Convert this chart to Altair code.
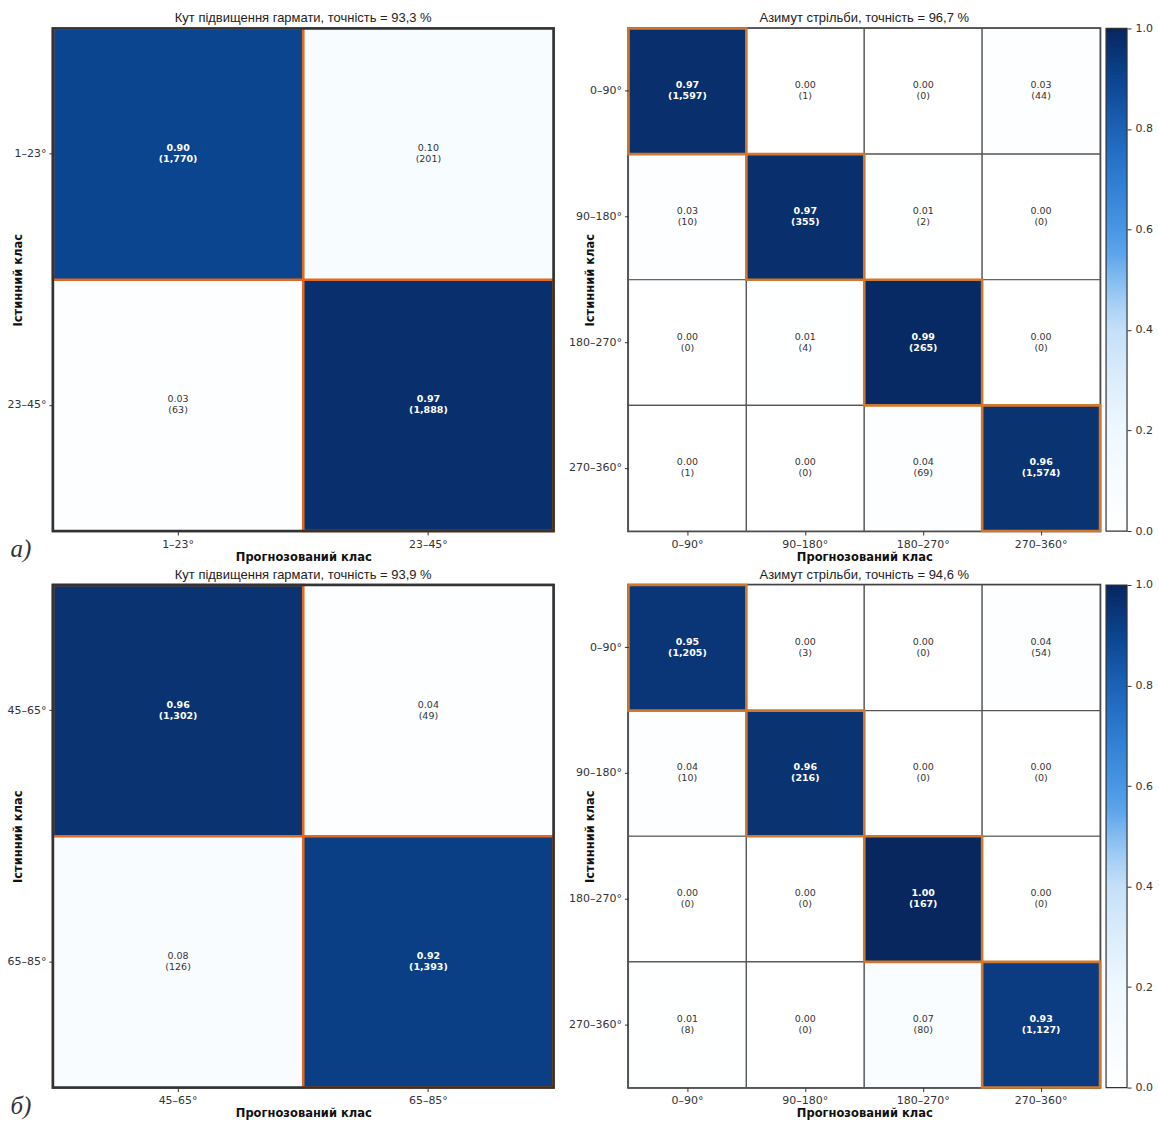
import altair as alt
import pandas as pd

# Class labels
elev_a = ["1–23°", "23–45°"]
elev_b = ["45–65°", "65–85°"]
azim = ["0–90°", "90–180°", "180–270°", "270–360°"]

# Normalised confusion matrices (rows = true class) and raw counts
elev_a_norm = [[0.90, 0.10], [0.03, 0.97]]
elev_a_cnt = [[1770, 201], [63, 1888]]

azim_a_norm = [[0.97, 0.00, 0.00, 0.03],
               [0.03, 0.97, 0.01, 0.00],
               [0.00, 0.01, 0.99, 0.00],
               [0.00, 0.00, 0.04, 0.96]]
azim_a_cnt = [[1597, 1, 0, 44],
              [10, 355, 2, 0],
              [0, 4, 265, 0],
              [1, 0, 69, 1574]]

elev_b_norm = [[0.96, 0.04], [0.08, 0.92]]
elev_b_cnt = [[1302, 49], [126, 1393]]

azim_b_norm = [[0.95, 0.00, 0.00, 0.04],
               [0.04, 0.96, 0.00, 0.00],
               [0.00, 0.00, 1.00, 0.00],
               [0.01, 0.00, 0.07, 0.93]]
azim_b_cnt = [[1205, 3, 0, 54],
              [10, 216, 0, 0],
              [0, 0, 167, 0],
              [8, 0, 80, 1127]]

titles = [
    "Кут підвищення гармати, точність = 93,3 %",
    "Азимут стрільби, точність = 96,7 %",
    "Кут підвищення гармати, точність = 93,9 %",
    "Азимут стрільби, точність = 94,6 %",
]
x_title = "Прогнозований клас"
y_title = "Істинний клас"
cbar_ticks = [0.0, 0.2, 0.4, 0.6, 0.8, 1.0]

# Blues-like colour ramp used for cells and colour bar
cmap_domain = [0.0, 0.2, 0.3, 0.4, 0.45, 0.5, 0.55, 0.6, 0.7, 0.8, 0.9, 1.0]
cmap_range = ["#ffffff", "#eef8ff", "#dcedfb", "#c5e0f8", "#a8d0f5", "#84bcf0",
              "#5ea6ea", "#4a96e4", "#2f7dd2", "#1c62b6", "#0c458f", "#08275f"]
color_scale = alt.Scale(domain=cmap_domain, range=cmap_range, clamp=True,
                        interpolate="rgb")

H = 503
RAMP_STEPS = 300


def cells(labels, norm, cnt):
    rows = []
    for i, t in enumerate(labels):
        for j, p in enumerate(labels):
            v = norm[i][j]
            rows.append({
                "true": t, "pred": p, "value": v,
                "label": f"{v:.2f}\n({cnt[i][j]:,})",
                "diag": i == j,
            })
    return pd.DataFrame(rows)


def colorbar(width):
    # thin stacked strips sampling the colour scale from 0 to 1
    step = 1.0 / RAMP_STEPS
    ramp = pd.DataFrame({
        "c0": [k * step for k in range(RAMP_STEPS)],
        "c1": [min(1.0, (k + 1.6) * step) for k in range(RAMP_STEPS)],
        "cm": [(k + 0.5) * step for k in range(RAMP_STEPS)],
    })
    strips = alt.Chart(ramp).mark_rect().encode(
        x=alt.value(width + 6), x2=alt.value(width + 27),
        y=alt.Y("c0:Q", scale=alt.Scale(domain=[0, 1], nice=False, zero=False),
                axis=alt.Axis(orient="right", offset=27, values=cbar_ticks,
                              format=".1f", title=None, labelPadding=4,
                              tickSize=4, domain=False, grid=False)),
        y2="c1:Q",
        color=alt.Color("cm:Q", scale=color_scale, legend=None),
    )
    outline = alt.Chart(pd.DataFrame({"k": [0]})).mark_rect(
        fillOpacity=0, stroke="#333", strokeWidth=1.2
    ).encode(x=alt.value(width + 6), x2=alt.value(width + 27),
             y=alt.value(0), y2=alt.value(H))
    return strips, outline


def panel(labels, norm, cnt, title, width, big, letter=None, title_x=-34):
    df = cells(labels, norm, cnt)
    base = alt.Chart(df)
    x = alt.X("pred:N", sort=labels, title=x_title,
              scale=alt.Scale(paddingInner=0, paddingOuter=0),
              axis=alt.Axis(labelAngle=0, labelPadding=3, titlePadding=2))
    y = alt.Y("true:N", sort=labels, title=y_title,
              scale=alt.Scale(paddingInner=0, paddingOuter=0),
              axis=alt.Axis(labelPadding=3, titleX=title_x, titleY=H / 2,
                            titleBaseline="middle", titleAngle=-90))
    color = alt.Color("value:Q", scale=color_scale, legend=None)
    rect = base.mark_rect(stroke="#555", strokeWidth=1.2).encode(
        x=x, y=y, color=color)
    diag_color = "#d0782e" if big else "#e2691f"
    diag = base.transform_filter("datum.diag").mark_rect(
        fillOpacity=0, stroke=diag_color, strokeWidth=2.6
    ).encode(x=x, y=y)
    txt_dark = base.transform_filter("datum.value >= 0.5").mark_text(
        lineBreak="\n", font="DejaVu Sans", fontSize=9.5, fontWeight="bold",
        color="white", lineHeight=11, dy=-6
    ).encode(x=x, y=y, text="label:N")
    txt_light = base.transform_filter("datum.value < 0.5").mark_text(
        lineBreak="\n", font="DejaVu Sans", fontSize=9.5, color="#333",
        lineHeight=11, dy=-6
    ).encode(x=x, y=y, text="label:N")
    layers = [rect, diag, txt_dark, txt_light]
    if not big:
        frame = alt.Chart(pd.DataFrame({"k": [0]})).mark_rect(
            fillOpacity=0, stroke="#333", strokeWidth=2.5
        ).encode(x=alt.value(0), x2=alt.value(width), y=alt.value(0), y2=alt.value(H))
        layers.append(frame)
    if letter:
        tag = alt.Chart(pd.DataFrame({"t": [letter]})).mark_text(
            font="Liberation Serif", fontStyle="italic", fontSize=25,
            color="#333", align="center", baseline="middle"
        ).encode(x=alt.value(-32), y=alt.value(521), text="t:N")
        layers.append(tag)
    matrix = alt.layer(*layers)
    if big:
        strips, outline = colorbar(width)
        out = alt.layer(matrix, strips, outline).resolve_scale(y="independent")
        title_dy = 5
    else:
        out = matrix
        title_dy = 0
    return out.properties(
        width=width, height=H,
        title=alt.Title(title, font="Liberation Sans", fontSize=13,
                        fontWeight="normal", color="#222", offset=2,
                        dy=title_dy),
    )


chart = alt.concat(
    panel(elev_a, elev_a_norm, elev_a_cnt, titles[0], 501, False, "а)", -34),
    panel(azim, azim_a_norm, azim_a_cnt, titles[1], 472, True, None, -38),
    panel(elev_b, elev_b_norm, elev_b_cnt, titles[2], 501, False, "б)", -34),
    panel(azim, azim_b_norm, azim_b_cnt, titles[3], 472, True, None, -38),
    columns=2, spacing={"row": 54, "column": 75}, bounds="flush",
).properties(
    padding={"left": 5, "top": 10, "right": 5, "bottom": 5},
    background="white",
).configure_view(
    stroke="#333", strokeWidth=2.5
).configure_axis(
    labelFont="DejaVu Sans", labelFontSize=11, labelColor="#333",
    tickColor="#333", tickSize=4, domain=False, grid=False,
    titleFont="DejaVu Sans", titleFontSize=11.5, titleFontWeight="bold",
    titleColor="#111",
)

chart.save("out.html", embed_options={"renderer": "svg", "actions": False})
